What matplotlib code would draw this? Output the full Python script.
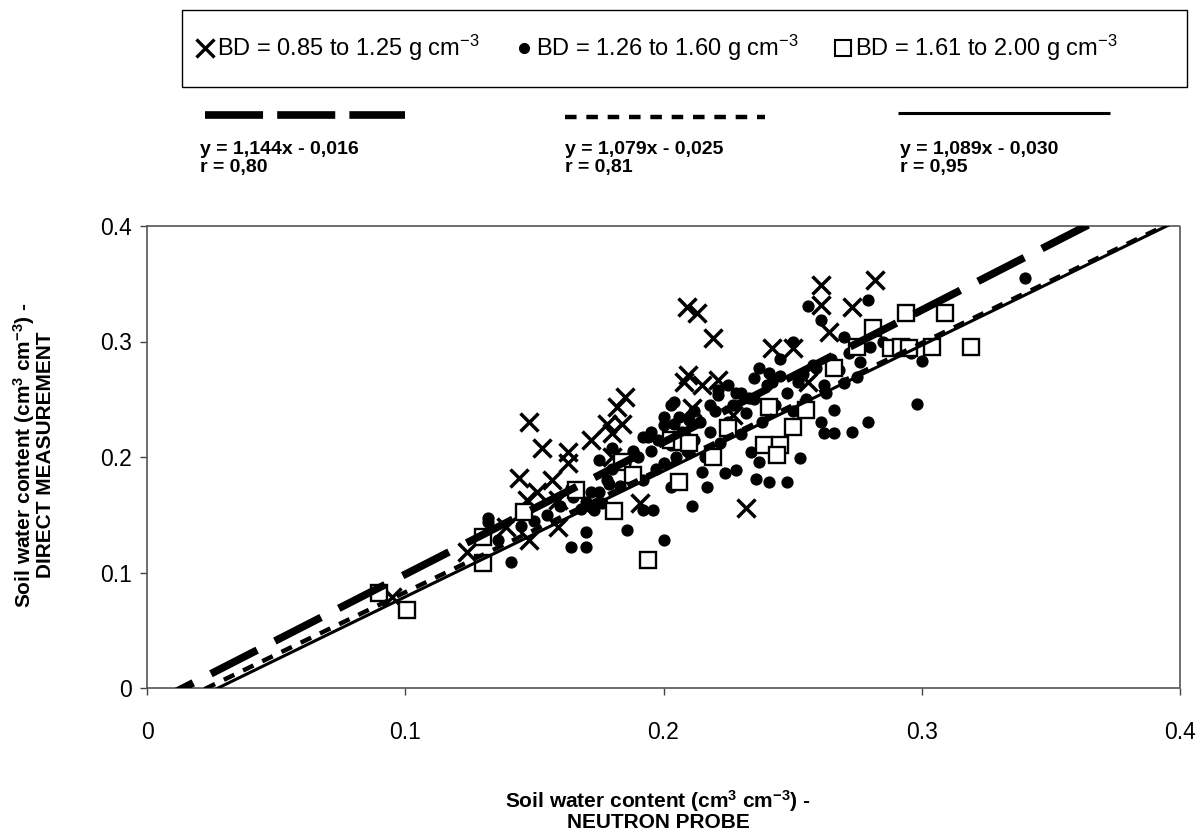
import matplotlib
matplotlib.use("Agg")
import matplotlib.pyplot as plt
from matplotlib.lines import Line2D
from matplotlib.patches import Rectangle
import numpy as np

plt.rcParams['font.family'] = ['Liberation Sans', 'DejaVu Sans']
plt.rcParams['mathtext.fontset'] = 'custom'
plt.rcParams['mathtext.rm'] = 'Liberation Sans'
plt.rcParams['mathtext.it'] = 'Liberation Sans:italic'
plt.rcParams['mathtext.bf'] = 'Liberation Sans:bold'

# ---- data ----
x_low = [0.209, 0.213, 0.219, 0.261, 0.282, 0.261, 0.273, 0.264, 0.242, 0.250,
         0.256, 0.2095, 0.208, 0.215, 0.221, 0.185, 0.182, 0.178, 0.184, 0.180,
         0.211, 0.148, 0.172, 0.153, 0.163, 0.163, 0.144, 0.151, 0.157, 0.159,
         0.147, 0.191, 0.139, 0.159, 0.148, 0.124, 0.095, 0.180, 0.232, 0.227]
y_low = [0.330, 0.325, 0.303, 0.349, 0.353, 0.332, 0.330, 0.308, 0.294, 0.294,
         0.265, 0.271, 0.265, 0.262, 0.267, 0.252, 0.243, 0.229, 0.229, 0.221,
         0.242, 0.230, 0.215, 0.208, 0.204, 0.195, 0.182, 0.170, 0.180, 0.163,
         0.163, 0.160, 0.139, 0.139, 0.128, 0.118, 0.079, 0.200, 0.156, 0.236]

x_mid = [0.186, 0.200, 0.211, 0.192, 0.196, 0.236, 0.241, 0.248, 0.253, 0.237,
         0.234, 0.228, 0.224, 0.215, 0.217, 0.203, 0.192, 0.262, 0.266, 0.178,
         0.175, 0.266, 0.261, 0.273, 0.200, 0.204, 0.221, 0.228, 0.237, 0.241,
         0.259, 0.270, 0.340, 0.279, 0.300, 0.298, 0.279, 0.270, 0.275, 0.263,
         0.261, 0.256, 0.203, 0.204, 0.221, 0.233, 0.194, 0.180, 0.132, 0.172,
         0.132, 0.136, 0.141, 0.164, 0.170, 0.170, 0.173, 0.179, 0.175, 0.170,
         0.164,
         0.145, 0.150, 0.155, 0.160, 0.165, 0.168, 0.172, 0.176, 0.180, 0.183,
         0.185, 0.188, 0.190, 0.192, 0.195, 0.197, 0.198, 0.200, 0.203, 0.205,
         0.207, 0.209, 0.212, 0.214, 0.216, 0.218, 0.220, 0.222, 0.225, 0.227,
         0.230, 0.232, 0.235, 0.238, 0.240, 0.243, 0.245, 0.248, 0.250, 0.252,
         0.255, 0.258, 0.262, 0.265, 0.268, 0.272, 0.276, 0.280, 0.285, 0.290,
         0.296, 0.212, 0.225, 0.235, 0.245, 0.250, 0.195, 0.206, 0.218, 0.230,
         0.242, 0.254, 0.188, 0.200, 0.210]
y_mid = [0.137, 0.128, 0.158, 0.154, 0.154, 0.181, 0.178, 0.178, 0.199, 0.196,
         0.204, 0.189, 0.186, 0.187, 0.174, 0.174, 0.217, 0.221, 0.221, 0.180,
         0.197, 0.241, 0.230, 0.222, 0.235, 0.248, 0.258, 0.255, 0.277, 0.273,
         0.277, 0.264, 0.355, 0.336, 0.283, 0.246, 0.230, 0.304, 0.269, 0.255,
         0.319, 0.331, 0.245, 0.229, 0.254, 0.251, 0.217, 0.208, 0.147, 0.157,
         0.144, 0.128, 0.109, 0.122, 0.122, 0.135, 0.154, 0.177, 0.170, 0.161,
         0.173,
         0.140, 0.145, 0.150, 0.158, 0.165, 0.155, 0.170, 0.160, 0.190, 0.175,
         0.195, 0.185, 0.200, 0.180, 0.205, 0.190, 0.215, 0.195, 0.210, 0.200,
         0.222, 0.205, 0.215, 0.230, 0.200, 0.222, 0.240, 0.212, 0.230, 0.245,
         0.220, 0.238, 0.250, 0.230, 0.262, 0.245, 0.270, 0.255, 0.240, 0.265,
         0.250, 0.280, 0.262, 0.285, 0.275, 0.290, 0.282, 0.295, 0.300, 0.292,
         0.290, 0.240, 0.262, 0.268, 0.285, 0.300, 0.222, 0.235, 0.245, 0.255,
         0.265, 0.272, 0.205, 0.228, 0.232]

x_high = [0.1007, 0.090, 0.130, 0.130, 0.194, 0.181, 0.146, 0.184, 0.166, 0.206,
          0.188, 0.203, 0.207, 0.210, 0.219, 0.239, 0.245, 0.244, 0.266, 0.241,
          0.255, 0.250, 0.225, 0.294, 0.309, 0.281, 0.275, 0.288, 0.292, 0.295,
          0.304, 0.319]
y_high = [0.0675, 0.082, 0.108, 0.131, 0.111, 0.153, 0.152, 0.196, 0.171, 0.178,
          0.184, 0.215, 0.213, 0.212, 0.200, 0.210, 0.210, 0.202, 0.277, 0.243,
          0.241, 0.226, 0.225, 0.325, 0.325, 0.312, 0.295, 0.294, 0.295, 0.294,
          0.295, 0.295]

group_labels = [r"BD = 0.85 to 1.25 g cm$^{-3}$",
                r"BD = 1.26 to 1.60 g cm$^{-3}$",
                r"BD = 1.61 to 2.00 g cm$^{-3}$"]
slopes = [1.144, 1.079, 1.089]
intercepts = [-0.016, -0.025, -0.030]
r_values = ["0,80", "0,81", "0,95"]
equations = ["y = 1,144x - 0,016", "y = 1,079x - 0,025", "y = 1,089x - 0,030"]
ticks = [0, 0.1, 0.2, 0.3, 0.4]
tick_labels = ["0", "0.1", "0.2", "0.3", "0.4"]
xlabel = "Soil water content (cm$^{\\mathbf{3}}$ cm$^{\\mathbf{-3}}$) -\nNEUTRON PROBE"
ylabel = "Soil water content (cm$^{\\mathbf{3}}$ cm$^{\\mathbf{-3}}$) -\nDIRECT MEASUREMENT"

# ---- figure ----
W, H = 1202, 834
fig = plt.figure(figsize=(W / 100, H / 100), dpi=100)
def fx(px): return px / W
def fy(py): return 1 - py / H

ax = fig.add_axes([fx(147), fy(688), fx(1180) - fx(147), fy(226) - fy(688)])

ax.plot(x_mid, y_mid, linestyle='none', marker='o', markersize=7.8,
        color='black', zorder=2)
ax.plot(x_low, y_low, linestyle='none', marker='x', markersize=12.5,
        markeredgewidth=2.5, color='black', zorder=3)
ax.plot(x_high, y_high, linestyle='none', marker='s', markersize=11,
        markerfacecolor='white', markeredgecolor='black',
        markeredgewidth=1.7, zorder=4)

plot_styles = [
    dict(linewidth=5.5, linestyle=(0, (6.8, 2.6))),
    dict(linewidth=3.2, linestyle=(0, (2.6, 2.2))),
    dict(linewidth=2.2, linestyle='-'),
]
legend_styles = [
    dict(linewidth=5.5, linestyle=(0, (7.6, 1.85))),
    dict(linewidth=3.2, linestyle=(0, (2.6, 2.2))),
    dict(linewidth=2.2, linestyle='-'),
]
xx = np.array([0.0, 0.4])
for a, b, st in zip(slopes, intercepts, plot_styles):
    ax.plot(xx, a * xx + b, color='black', zorder=5, solid_capstyle='butt', **st)

ax.set_xlim(0, 0.4)
ax.set_ylim(0, 0.4)
ax.set_xticks(ticks)
ax.set_xticklabels(tick_labels)
ax.set_yticks(ticks)
ax.set_yticklabels(tick_labels)
ax.tick_params(axis='both', labelsize=16.5, color='#444444', direction='out',
               length=5, width=1)
ax.tick_params(axis='x', pad=19)
ax.tick_params(axis='y', pad=6)
for s in ax.spines.values():
    s.set_linestyle((0, (1, 1)))
    s.set_color('#555555')
    s.set_linewidth(1.2)

fig.text(fx(658), fy(810), xlabel, fontsize=15, fontweight='bold',
         ha='center', va='center', linespacing=0.95)
fig.text(fx(33), fy(455), ylabel, fontsize=15, fontweight='bold',
         ha='center', va='center', rotation=90, linespacing=0.95)

# ---- top legend box ----
fig.add_artist(Rectangle((fx(182), fy(87)), fx(1187) - fx(182), fy(10) - fy(87),
                         transform=fig.transFigure, fill=False,
                         edgecolor='black', linewidth=1.0))
mk_x = [205, 524, 843]
tx_x = [217, 536, 855]
mk_styles = [dict(marker='x', markersize=13, markeredgewidth=2.4, color='black'),
             dict(marker='o', markersize=7, color='black'),
             dict(marker='s', markersize=11, markerfacecolor='white',
                  markeredgecolor='black', markeredgewidth=1.5)]
for mx, tx, st, lab in zip(mk_x, tx_x, mk_styles, group_labels):
    fig.add_artist(Line2D([fx(mx)], [fy(48)], transform=fig.transFigure,
                          linestyle='none', **st))
    fig.text(fx(tx), fy(48), lab, fontsize=17, va='center', ha='left')

# ---- line legend samples ----
seg = [(205, 405, 115), (565, 765, 117), (898, 1110, 113)]
for (x0, x1, yy), st in zip(seg, legend_styles):
    fig.add_artist(Line2D([fx(x0), fx(x1)], [fy(yy), fy(yy)],
                          transform=fig.transFigure, color='black',
                          solid_capstyle='butt', **st))
eq_x = [200, 565, 900]
for ex, eq, r in zip(eq_x, equations, r_values):
    fig.text(fx(ex), fy(141), eq + "\nr = " + r, fontsize=14,
             fontweight='bold', va='top', ha='left', linespacing=1.1)

fig.savefig("out.png", dpi=100)
